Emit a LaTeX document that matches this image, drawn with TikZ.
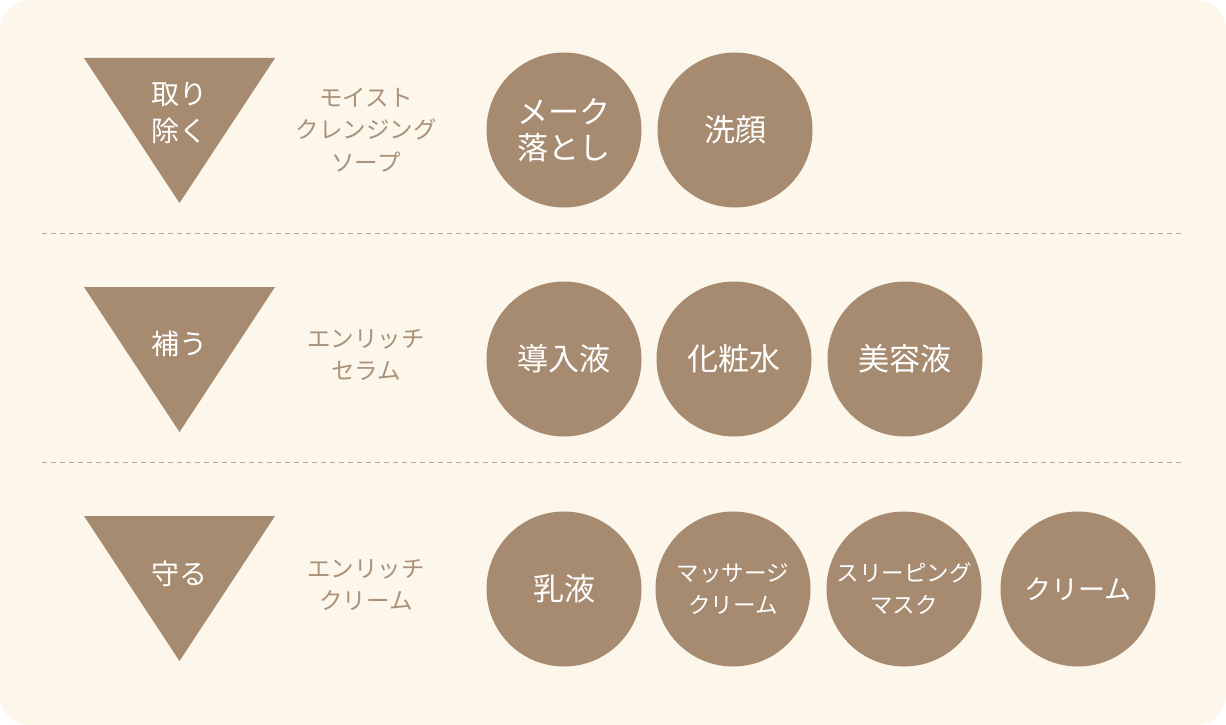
\documentclass[tikz,border=0pt]{standalone}
\usepackage{fontspec}
\newfontfamily\jp{Noto Sans CJK JP}
\definecolor{cream}{RGB}{253,246,234}
\definecolor{brownfill}{RGB}{166,139,112}
\definecolor{labeltext}{RGB}{170,146,122}
\definecolor{dashcol}{RGB}{188,166,140}
\tikzset{
  bubble/.style={circle, fill=brownfill, minimum size=155pt, inner sep=0pt, text=white, align=center},
  bigtxt/.style={font=\jp\fontsize{31pt}{36pt}\selectfont},
  midtxt/.style={font=\jp\fontsize{27pt}{34pt}\selectfont},
  smalltxt/.style={font=\jp\fontsize{22.5pt}{32pt}\selectfont},
  tritxt/.style={text=white, align=center, inner sep=0pt, font=\jp\fontsize{28pt}{37pt}\selectfont},
  sidelabel/.style={text=labeltext, align=center, inner sep=0pt, font=\jp\fontsize{23.5pt}{32.5pt}\selectfont},
  tri/.style={fill=brownfill},
  sep/.style={draw=dashcol, line width=1.5pt, dash pattern=on 5pt off 4pt}
}
\begin{document}
\begin{tikzpicture}[x=1pt,y=-1pt]
\useasboundingbox (0,0) rectangle (1226,725);
\fill[white] (0,0) rectangle (1226,725);
\fill[cream, rounded corners=30pt] (0,0) rectangle (1226,725);
% separators
\coordinate (s1a) at (42,233.5); \coordinate (s1b) at (1183,233.5);
\coordinate (s2a) at (42,462.5); \coordinate (s2b) at (1183,462.5);
\draw[sep] (s1a) -- (s1b);
\draw[sep] (s2a) -- (s2b);
% triangles
\fill[tri] (84,58) -- (275,58) -- (179.5,203) -- cycle;
\fill[tri] (84,287) -- (275,287) -- (179.5,432) -- cycle;
\fill[tri] (84,516) -- (275,516) -- (179.5,661) -- cycle;
\node[tritxt] (t1) at (179.5,113) {取り\\除く};
\node[tritxt] (t2) at (179.5,344) {補う};
\node[tritxt] (t3) at (179.5,574) {守る};
% side labels
\node[sidelabel] (l1) at (366,130) {モイスト\\クレンジング\\ソープ};
\node[sidelabel] (l2) at (366,355) {エンリッチ\\セラム};
\node[sidelabel] (l3) at (366,585) {エンリッチ\\クリーム};
% row 1
\node[bubble, bigtxt] (c11) at (564,130) {メーク\\落とし};
\node[bubble, bigtxt] (c12) at (735,130) {洗顔};
% row 2
\node[bubble, bigtxt] (c21) at (564,359) {導入液};
\node[bubble, bigtxt] (c22) at (734,359) {化粧水};
\node[bubble, bigtxt] (c23) at (905,359) {美容液};
% row 3
\node[bubble, bigtxt] (c31) at (564,589) {乳液};
\node[bubble, smalltxt] (c32) at (733,589) {マッサージ\\クリーム};
\node[bubble, smalltxt] (c33) at (904,589) {スリーピング\\マスク};
\node[bubble, midtxt] (c34) at (1078,589) {クリーム};
\end{tikzpicture}
\end{document}
